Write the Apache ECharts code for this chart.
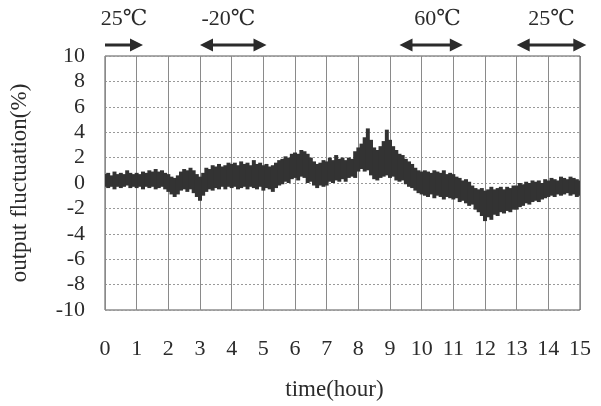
<!DOCTYPE html>
<html>
<head>
<meta charset="utf-8">
<script src="https://cdn.jsdelivr.net/npm/echarts@6/dist/echarts.min.js"></script>
<style>html,body{margin:0;padding:0;background:#fff;}#c{width:601px;height:406px;}</style>
</head>
<body>
<div id="c"></div>
<script>
// Upper envelope of the output fluctuation band (%), one value every 0.1 hour from 0 to 15
const upper = [
  0.7,0.8,0.6,0.9,0.7,0.8,0.7,1.0,0.8,0.7,
  0.8,0.7,0.9,0.8,1.0,0.9,1.1,0.9,1.0,0.8,
  0.7,0.5,0.4,0.6,0.9,1.1,1.0,1.2,1.0,0.7,
  0.5,0.8,1.2,1.1,1.4,1.3,1.5,1.3,1.4,1.6,
  1.5,1.6,1.4,1.7,1.5,1.6,1.4,1.8,1.5,1.6,
  1.4,1.5,1.3,1.4,1.6,1.8,1.9,2.1,2.0,2.3,
  2.4,2.3,2.6,2.5,2.3,2.0,1.7,1.5,1.6,1.8,
  1.7,2.0,1.8,2.2,1.9,2.0,1.8,2.0,1.9,2.5,
  2.8,3.1,3.6,4.3,3.4,2.8,2.6,2.9,3.3,4.2,
  3.4,2.9,2.6,2.3,2.2,1.9,1.7,1.5,1.2,1.0,
  0.9,1.0,0.9,0.8,1.0,0.9,0.8,1.0,0.7,0.8,
  0.7,0.5,0.4,0.2,0.3,0.1,-0.2,-0.4,-0.5,-0.4,
  -0.6,-0.5,-0.3,-0.5,-0.4,-0.3,-0.5,-0.3,-0.4,-0.2,
  -0.2,0.0,-0.1,0.1,0.0,0.2,0.1,0.2,0.0,0.3,
  0.2,0.4,0.3,0.2,0.5,0.4,0.3,0.5,0.4,0.3,
  0.2
];
// Lower envelope of the output fluctuation band (%)
const lower = [
  -0.3,-0.4,-0.3,-0.5,-0.3,-0.4,-0.3,-0.2,-0.4,-0.3,
  -0.4,-0.3,-0.5,-0.3,-0.4,-0.3,-0.5,-0.4,-0.3,-0.5,
  -0.7,-0.9,-1.1,-0.9,-0.6,-0.5,-0.7,-0.5,-0.8,-1.1,
  -1.4,-1.0,-0.7,-0.5,-0.6,-0.4,-0.5,-0.3,-0.5,-0.3,
  -0.4,-0.3,-0.5,-0.4,-0.3,-0.5,-0.3,-0.4,-0.5,-0.3,
  -0.6,-0.4,-0.5,-0.7,-0.4,-0.2,-0.1,0.1,0.0,0.3,
  0.4,0.2,0.5,0.4,0.0,0.1,-0.2,-0.4,-0.2,-0.3,
  -0.2,0.1,0.0,0.2,0.1,0.3,0.1,0.4,0.5,0.4,
  0.9,1.1,0.9,1.0,0.6,0.3,0.2,0.4,0.5,0.6,
  0.4,0.5,0.2,0.1,0.2,-0.1,-0.3,-0.4,-0.6,-0.8,
  -0.9,-1.0,-1.1,-0.9,-1.2,-1.0,-1.1,-1.3,-1.1,-1.2,
  -1.3,-1.2,-1.5,-1.4,-1.6,-1.8,-1.7,-2.1,-2.3,-2.6,
  -3.0,-2.7,-2.9,-2.5,-2.6,-2.3,-2.4,-2.2,-2.3,-2.1,
  -2.1,-1.9,-1.8,-1.6,-1.7,-1.5,-1.4,-1.5,-1.3,-1.2,
  -1.1,-1.0,-1.1,-0.9,-1.0,-0.9,-0.8,-1.0,-0.9,-1.1,
  -1.0
];
// Axis ticks
const SAMPLES_PER_HOUR = 10;
const yMin = -10, yMax = 10, yInterval = 2;
// Temperature phases (hours)
const phaseLabels = ['25\u2103', '-20\u2103', '60\u2103', '25\u2103'];
const phaseLabelAt = [0.6, 3.89, 10.54, 14.06];
const arrowFrom = [0.03, 2.98, 9.26, 13.02];
const arrowTo = [1.19, 5.11, 11.33, 15.15];
const arrowKind = ['right', 'both', 'both', 'both'];

const SERIF = "'Liberation Serif','DejaVu Serif','Times New Roman',serif";
const INK = '#2b2b2b';
const BAND = '#333333';

// time categories (hours) at each sample
const times = upper.map((_, i) => String(i / SAMPLES_PER_HOUR));
const bandData = upper.map((u, i) => [i, lower[i], u]);
const isHour = (idx) => idx % SAMPLES_PER_HOUR === 0;

const chart = echarts.init(document.getElementById('c'), null, {renderer: 'canvas'});
const GRID = {left: 102, right: 21, top: 56, bottom: 91};
chart.setOption({
  animation: false,
  backgroundColor: '#fff',
  grid: Object.assign({show: true, borderColor: '#555', borderWidth: 1, backgroundColor: 'transparent'}, GRID),
  xAxis: {
    type: 'category', data: times, boundaryGap: false,
    name: 'time(hour)', nameLocation: 'middle', nameGap: 68,
    nameTextStyle: {fontFamily: SERIF, fontSize: 23, color: INK, padding: [0, 16, 0, 0]},
    axisLine: {show: false}, axisTick: {show: false},
    axisLabel: {margin: 28, interval: isHour, fontFamily: SERIF, fontSize: 22, color: INK},
    splitLine: {show: true, interval: isHour, lineStyle: {color: '#8a8a8a', width: 1}}
  },
  yAxis: {
    type: 'value', min: yMin, max: yMax, interval: yInterval,
    name: 'output fluctuation(%)', nameLocation: 'middle', nameGap: 74, nameRotate: 90,
    nameTextStyle: {fontFamily: SERIF, fontSize: 23, color: INK},
    axisLine: {show: false}, axisTick: {show: false},
    axisLabel: {margin: 20, fontFamily: SERIF, fontSize: 22, color: INK},
    splitLine: {show: true, lineStyle: {color: '#999', width: 1, type: [2, 2]}}
  },
  series: [
    {
      type: 'custom', data: bandData, clip: true, silent: true,
      encode: {x: 0, y: [1, 2]},
      renderItem: function (params, api) {
        const i = api.value(0);
        const pLo = api.coord([i, api.value(1)]);
        const pHi = api.coord([i, api.value(2)]);
        const w = api.size([1, 0])[0];
        return {
          type: 'rect',
          shape: {x: pLo[0] - w / 2 - 0.4, y: pHi[1], width: w + 0.8, height: pLo[1] - pHi[1]},
          style: {fill: BAND}
        };
      }
    }
  ]
});

// Temperature phase arrows and labels above the plot
const elements = [];
const arrowY = GRID.top - 11;
const textY = GRID.top - 37;
const headLen = 13, headHalf = 6.5;
const toX = (h) => chart.convertToPixel({gridIndex: 0}, [h * SAMPLES_PER_HOUR, 0])[0];
for (let i = 0; i < phaseLabels.length; i++) {
  const x1 = toX(arrowFrom[i]);
  const x2 = toX(arrowTo[i]);
  const xl = toX(phaseLabelAt[i]);
  const both = arrowKind[i] === 'both';
  elements.push({
    type: 'line',
    shape: {x1: both ? x1 + headLen - 2 : x1, y1: arrowY, x2: x2 - headLen + 2, y2: arrowY},
    style: {stroke: INK, lineWidth: 3}
  });
  elements.push({
    type: 'polygon',
    shape: {points: [[x2, arrowY], [x2 - headLen, arrowY - headHalf], [x2 - headLen, arrowY + headHalf]]},
    style: {fill: INK}
  });
  if (both) {
    elements.push({
      type: 'polygon',
      shape: {points: [[x1, arrowY], [x1 + headLen, arrowY - headHalf], [x1 + headLen, arrowY + headHalf]]},
      style: {fill: INK}
    });
  }
  elements.push({
    type: 'text',
    style: {text: phaseLabels[i], x: xl, y: textY, align: 'center', verticalAlign: 'middle',
            font: "22px " + SERIF, fill: INK}
  });
}
chart.setOption({graphic: {elements: elements}});
</script>
</body>
</html>
